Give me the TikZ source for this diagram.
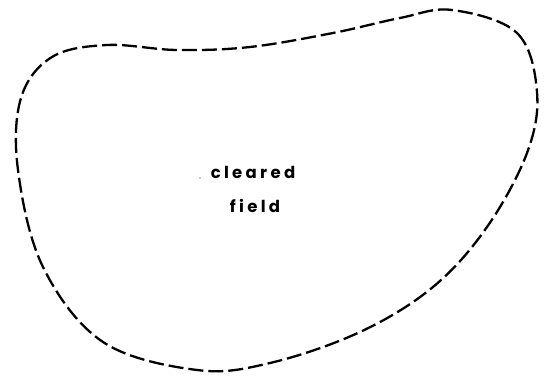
\documentclass[tikz,border=0pt]{standalone}
\usepackage{fontspec}
\newfontfamily\labelfont[LetterSpace=20]{Poppins}
\begin{document}
\begin{tikzpicture}[x=1pt,y=-1pt,
  boundary/.style={line width=2.3pt, dash pattern=on 15pt off 5pt, line cap=butt},
  lbl/.style={font=\labelfont\bfseries\fontsize{16.5}{19}\selectfont, align=center, inner sep=0pt}]
\useasboundingbox (0,0) rectangle (547,383);
\draw[boundary] plot[smooth cycle, tension=0.6] coordinates {
  (452,10) (517,33) (537,92) (527,153) (487,227) (433,287) (360,332) (270,363)
  (197,370) (103,342) (43,267) (18,170) (21,98) (52,57) (107,45) (177,50)
  (250,47) (333,33) (400,18)};
\node[lbl, anchor=base] (c) at (253,178) {cleared};
\node[lbl, anchor=base] (f) at (255,212) {field};
\fill (200,178) circle (0.6pt);
\end{tikzpicture}
\end{document}
